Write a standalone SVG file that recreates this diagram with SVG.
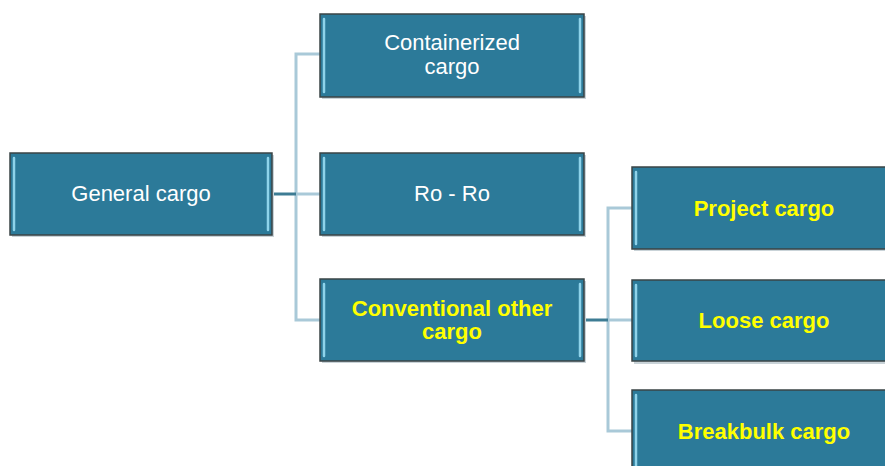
<svg xmlns="http://www.w3.org/2000/svg" width="885" height="466" viewBox="0 0 885 466">
<style>
.box{fill:#2c7a99;stroke:#3a4446;stroke-width:1.5}
.bev{fill:none;stroke:#8ed3ea;stroke-width:2.5;stroke-linecap:round}
.shd{fill:#c9d3d8}
.t{font-family:"Liberation Sans",Arial,sans-serif;font-size:22px;fill:#ffffff;text-anchor:middle}
.y{fill:#ffff00;font-weight:bold;font-size:22px}
.lt{fill:none;stroke:#a9c9d8;stroke-width:3}
.dk{fill:none;stroke:#3d7c94;stroke-width:3}
</style>
<g id="connectors">
<path class="lt" d="M320 54 H296 V320 H320"/>
<path class="lt" d="M296 194 H320"/>
<path class="dk" d="M272 194 H296"/>
<path class="lt" d="M632 208 H608 V431 H632"/>
<path class="lt" d="M608 320 H632"/>
<path class="dk" d="M584 320 H608"/>
</g>
<g id="general">
<rect class="shd" x="12" y="155" width="262" height="82"/>
<rect class="box" x="10" y="153" width="262" height="82"/>
<line class="bev" x1="14" y1="158" x2="14" y2="230"/><line class="bev" x1="268" y1="158" x2="268" y2="230"/>
<text class="t" x="141" y="201">General cargo</text>
</g>
<g id="containerized">
<rect class="shd" x="322" y="16" width="264" height="83"/>
<rect class="box" x="320" y="14" width="264" height="83"/>
<line class="bev" x1="324" y1="19" x2="324" y2="92"/><line class="bev" x1="580" y1="19" x2="580" y2="92"/>
<text class="t" x="452" y="50">Containerized</text>
<text class="t" x="452" y="74">cargo</text>
</g>
<g id="roro">
<rect class="shd" x="322" y="155" width="264" height="82"/>
<rect class="box" x="320" y="153" width="264" height="82"/>
<line class="bev" x1="324" y1="158" x2="324" y2="230"/><line class="bev" x1="580" y1="158" x2="580" y2="230"/>
<text class="t" x="452" y="201">Ro - Ro</text>
</g>
<g id="conventional">
<rect class="shd" x="322" y="281" width="264" height="82"/>
<rect class="box" x="320" y="279" width="264" height="82"/>
<line class="bev" x1="324" y1="284" x2="324" y2="356"/><line class="bev" x1="580" y1="284" x2="580" y2="356"/>
<text class="t y" x="452" y="316">Conventional other</text>
<text class="t y" x="452" y="339">cargo</text>
</g>
<g id="project">
<rect class="shd" x="634" y="169" width="260" height="82"/>
<rect class="box" x="632" y="167" width="260" height="82"/>
<line class="bev" x1="636" y1="172" x2="636" y2="244"/>
<text class="t y" x="764" y="216">Project cargo</text>
</g>
<g id="loose">
<rect class="shd" x="634" y="282" width="260" height="82"/>
<rect class="box" x="632" y="280" width="260" height="81"/>
<line class="bev" x1="636" y1="285" x2="636" y2="356"/>
<text class="t y" x="764" y="328">Loose cargo</text>
</g>
<g id="breakbulk">
<rect class="shd" x="634" y="392" width="260" height="82"/>
<rect class="box" x="632" y="390" width="260" height="82"/>
<line class="bev" x1="636" y1="395" x2="636" y2="470"/>
<text class="t y" x="764" y="439">Breakbulk cargo</text>
</g>
</svg>
